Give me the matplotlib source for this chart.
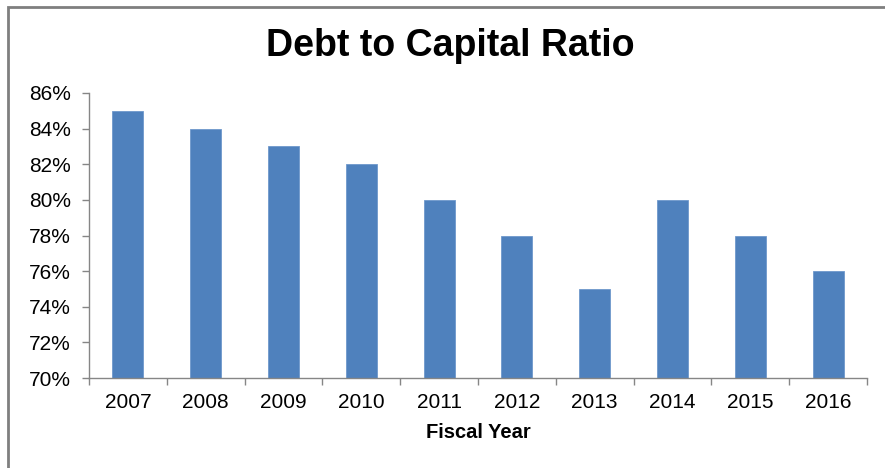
import matplotlib
matplotlib.use("Agg")
import matplotlib.pyplot as plt
from matplotlib.patches import Rectangle
from matplotlib.ticker import FuncFormatter, MultipleLocator, FixedLocator

years = ["2007", "2008", "2009", "2010", "2011", "2012", "2013", "2014", "2015", "2016"]
ratios = [85, 84, 83, 82, 80, 78, 75, 80, 78, 76]

plt.rcParams['font.family'] = ['Liberation Sans', 'DejaVu Sans']

fig = plt.figure(figsize=(8.85, 4.68), dpi=100)
fig.patch.set_facecolor('white')

# outer frame (top and left visible)
fig.patches.append(Rectangle((8/885, -0.05), 1.2, 1 - 7/468 + 0.05, transform=fig.transFigure,
                             fill=False, edgecolor='#7f7f7f', linewidth=2, zorder=0))

ax = fig.add_axes([89/885, 1 - 378/468, (867 - 89)/885, (378 - 93)/468])
x = list(range(len(years)))
ax.bar(x, ratios, width=0.4, color='#4F81BD', edgecolor='#6f98cc', linewidth=0.6, zorder=2)

ax.set_xlim(-0.5, len(years) - 0.5)
ax.set_ylim(70, 86)
ax.yaxis.set_major_locator(MultipleLocator(2))
ax.yaxis.set_major_formatter(FuncFormatter(lambda v, p: f"{v:.0f}%"))

ax.set_xticks(x)
ax.set_xticklabels(years)
ax.xaxis.set_minor_locator(FixedLocator([i - 0.5 for i in range(len(years) + 1)]))
ax.tick_params(axis='x', which='major', length=0, labelsize=15, pad=11, colors='black')
ax.tick_params(axis='x', which='minor', length=5, color='#868686', width=1)
ax.tick_params(axis='y', which='major', length=5, color='#868686', width=1, labelsize=15, pad=8)

for s in ['top', 'right']:
    ax.spines[s].set_visible(False)
for s in ['left', 'bottom']:
    ax.spines[s].set_color('#868686')
    ax.spines[s].set_linewidth(1)

fig.text(450/885, 1 - 46/468, "Debt to Capital Ratio", ha='center', va='center',
         fontsize=27, fontweight='bold')
fig.text(478/885, 1 - 432/468, "Fiscal Year", ha='center', va='center',
         fontsize=14.5, fontweight='bold')

fig.savefig("out.png", dpi=100)
